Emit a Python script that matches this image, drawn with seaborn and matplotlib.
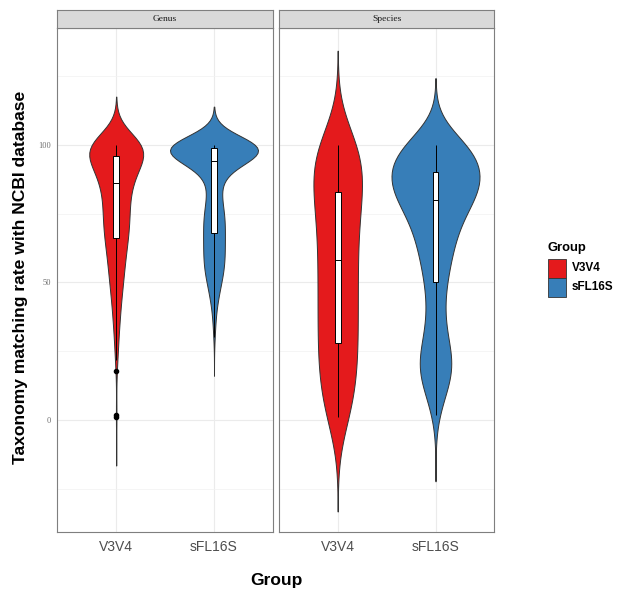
import numpy as np
import pandas as pd
import matplotlib
matplotlib.use("Agg")
import matplotlib.pyplot as plt
import seaborn as sns
from matplotlib.patches import Rectangle

# ---------------- data (with counts) ----------------
groups = ["V3V4", "sFL16S"]
facets = ["Genus", "Species"]
colors = ["#E41A1C", "#377EB8"]

genus_v3v4_values = [100, 98, 96, 94, 92, 90, 88, 86, 84, 82, 80, 78, 76, 74, 72, 70, 68, 66,
                     64, 62, 60, 58, 56, 54, 52, 50, 48, 46, 44, 42, 40, 38, 36, 34, 32, 30,
                     28, 26, 24, 22, 18, 2, 1]
genus_v3v4_counts = [116, 16, 24, 28, 26, 22, 18, 16, 14, 14, 14, 14, 14, 14, 14, 14, 14, 12,
                     12, 10, 10, 10, 8, 8, 8, 8, 6, 6, 6, 4, 4, 4, 4, 4, 2, 2,
                     2, 2, 2, 2, 1, 1, 1]

genus_sfl16s_values = [100, 99, 98, 97, 96, 95, 94, 92, 90, 88, 86, 84, 82, 80, 78, 76, 74, 72,
                       70, 68, 66, 64, 62, 60, 58, 56, 54, 52, 50, 48, 46, 44, 42, 40, 38, 36,
                       34, 32, 30]
genus_sfl16s_counts = [225, 52, 63, 52, 52, 42, 32, 32, 21, 14, 12, 12, 14, 15, 16, 21, 22, 22,
                       21, 21, 21, 21, 21, 21, 21, 21, 20, 16, 15, 12, 9, 8, 6, 4, 3, 3,
                       2, 2, 2]

species_v3v4_values = [100, 97, 94, 91, 88, 85, 82, 79, 76, 73, 70, 67, 64, 61, 58, 55, 52, 49,
                       46, 43, 40, 37, 34, 31, 28, 25, 22, 19, 16, 13, 10, 7, 4, 1]
species_v3v4_counts = [14, 4, 5, 5, 5, 5, 6, 5, 4, 4, 4, 4, 4, 4, 4, 4, 4, 4,
                       4, 4, 4, 4, 4, 4, 4, 4, 4, 4, 4, 4, 3, 3, 2, 7]

species_sfl16s_values = [100, 98, 96, 94, 92, 90, 88, 86, 84, 82, 80, 78, 76, 74, 72, 70, 68, 66,
                         64, 62, 60, 58, 56, 54, 52, 50, 47, 44, 41, 38, 35, 32, 29, 26, 23, 20,
                         17, 14, 11, 8, 5, 2]
species_sfl16s_counts = [51, 18, 18, 18, 18, 24, 25, 24, 23, 23, 23, 10, 13, 12, 12, 11, 10, 9,
                         8, 8, 8, 7, 7, 6, 6, 6, 6, 6, 6, 6, 6, 7, 8, 10, 14, 15,
                         14, 12, 8, 5, 3, 3]

y_ticks = [0, 50, 100]
y_minor = [-25, 25, 75, 125]

tables = {
    ("Genus", "V3V4"): (genus_v3v4_values, genus_v3v4_counts),
    ("Genus", "sFL16S"): (genus_sfl16s_values, genus_sfl16s_counts),
    ("Species", "V3V4"): (species_v3v4_values, species_v3v4_counts),
    ("Species", "sFL16S"): (species_sfl16s_values, species_sfl16s_counts),
}
frames = []
for (facet, grp), (vals, cnts) in tables.items():
    frames.append(pd.DataFrame({"Facet": facet, "Group": grp,
                                "Rate": np.repeat(np.asarray(vals, float), cnts)}))
df = pd.concat(frames, ignore_index=True)

# ---------------- figure ----------------
sns.set_theme(style="white")
plt.rcParams["font.family"] = ["Liberation Sans", "DejaVu Sans"]

W, H = 619, 593
fig = plt.figure(figsize=(W / 100, H / 100), dpi=100)
fx = lambda px: px / W
fy = lambda py: 1 - py / H

panel_lefts = [57.5, 279.0]
panel_w = 215.2
p_top, p_bot, s_top = 28.0, 532.0, 10.0
palette = dict(zip(groups, colors))
border = "#7F7F7F"

for i, facet in enumerate(facets):
    L = panel_lefts[i]
    ax = fig.add_axes([fx(L), fy(p_bot), panel_w / W, (p_bot - p_top) / H])
    sub = df[df["Facet"] == facet]
    sns.violinplot(data=sub, x="Group", y="Rate", hue="Group", order=groups,
                   hue_order=groups, palette=palette, saturation=1, inner=None, cut=3,
                   width=0.9, density_norm="area", common_norm=True, linewidth=0.7,
                   linecolor="#333333", legend=False, ax=ax)
    sns.boxplot(data=sub, x="Group", y="Rate", order=groups, width=0.06, color="white",
                saturation=1, linecolor="black", linewidth=0.7, showcaps=False,
                flierprops=dict(marker="o", markersize=3, markerfacecolor="black",
                                markeredgecolor="black"), ax=ax)
    ax.set_xlim(-0.6, 1.6)
    ax.set_ylim(-40.7, 142.5)
    ax.set_yticks(y_ticks)
    ax.set_yticks(y_minor, minor=True)
    ax.set_axisbelow(True)
    ax.grid(which="major", color="#EBEBEB", lw=0.8)
    ax.grid(which="minor", axis="y", color="#F2F2F2", lw=0.5)
    ax.set_xlabel("")
    ax.set_ylabel("")
    for sp in ax.spines.values():
        sp.set_color(border)
        sp.set_linewidth(0.8)
    ax.tick_params(axis="both", which="major", length=2.5, width=0.6, color=border,
                   pad=2, direction="out")
    ax.tick_params(axis="y", which="minor", length=0)
    ax.tick_params(axis="x", labelsize=10, labelcolor="#4D4D4D", pad=3.5)
    ax.tick_params(axis="y", labelsize=6, labelcolor="#6E6E6E")
    for t in ax.get_yticklabels():
        t.set_fontfamily("Liberation Serif")
    if i > 0:
        ax.tick_params(axis="y", labelleft=False, length=0)
    # strip
    sax = fig.add_axes([fx(L), fy(p_top), panel_w / W, (p_top - s_top) / H])
    sax.set_facecolor("#D9D9D9")
    sax.set_xticks([]); sax.set_yticks([])
    for sp in sax.spines.values():
        sp.set_color(border)
        sp.set_linewidth(0.8)
    sax.text(0.5, 0.5, facet, ha="center", va="center", fontsize=6.8,
             family="Liberation Serif", color="#1A1A1A", transform=sax.transAxes)

# axis titles
fig.text(fx(276), fy(580), "Group", ha="center", va="center", fontsize=12.5,
         fontweight="bold", color="black")
fig.text(fx(21), fy(277), "Taxonomy matching rate with NCBI database", ha="center",
         va="center", rotation=90, fontsize=12.6, fontweight="bold", color="black")

# legend
fig.text(fx(548), fy(248), "Group", ha="left", va="center", fontsize=9.4,
         fontweight="bold", color="black")
key_top = 259.0
for k, (g, c) in enumerate(zip(groups, colors)):
    y0 = key_top + k * 19
    fig.patches.append(Rectangle((fx(548), fy(y0 + 19)), 18 / W, 19 / H,
                                 transform=fig.transFigure, facecolor=c,
                                 edgecolor="#333333", linewidth=0.6))
    fig.text(fx(572), fy(y0 + 9.5), g, ha="left", va="center", fontsize=8.5,
             fontweight="bold", color="black")

fig.savefig("out.png", dpi=100)
